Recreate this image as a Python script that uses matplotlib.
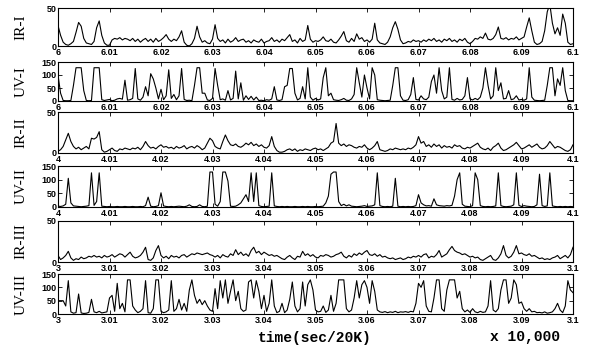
import numpy as np
import matplotlib
matplotlib.use("Agg")
import matplotlib.pyplot as plt
from matplotlib.ticker import FuncFormatter
from matplotlib.font_manager import FontProperties

# start time of each record (x 10,000 samples), each record spans 0.1
starts = [6.0, 6.0, 4.0, 4.0, 3.0, 3.0]
names = ["IR-I", "UV-I", "IR-II", "UV-II", "IR-III", "UV-III"]
ytops = [50, 150, 50, 150, 50, 150]

# traces sampled every 0.0005 (201 samples per record)
ir_1 = [27, 14, 5, 2, 1, 3, 6, 18, 31, 26, 10, 4, 3, 2, 6, 24, 33, 14, 4, 1,
        1, 8, 10, 9, 11, 8, 10, 9, 7, 10, 6, 9, 5, 8, 10, 6, 9, 5, 10, 6,
        8, 11, 15, 9, 6, 9, 7, 12, 20, 5, 1, 0, 3, 10, 26, 12, 5, 7, 4, 3,
        9, 28, 10, 6, 8, 4, 9, 5, 7, 11, 6, 8, 9, 5, 7, 4, 8, 6, 5, 9,
        4, 6, 7, 11, 6, 8, 5, 9, 7, 11, 15, 6, 8, 4, 10, 6, 8, 27, 9, 5,
        7, 6, 8, 12, 7, 6, 9, 5, 4, 8, 13, 19, 7, 5, 10, 6, 16, 9, 11, 6,
        8, 5, 9, 30, 8, 4, 3, 2, 5, 12, 24, 32, 22, 8, 3, 4, 6, 5, 8, 6,
        7, 5, 8, 6, 9, 7, 10, 6, 8, 5, 9, 7, 10, 6, 8, 5, 9, 7, 10, 5,
        3, 6, 10, 9, 12, 10, 17, 9, 8, 10, 15, 25, 10, 9, 11, 8, 10, 9, 12, 8,
        10, 12, 25, 37, 20, 5, 2, 3, 6, 20, 45, 55, 30, 16, 24, 14, 42, 30, 5, 2,
        3]
uv_1 = [100, 30, 2, 1, 1, 2, 60, 128, 128, 128, 40, 2, 1, 2, 128, 128, 128, 5, 2, 4,
        6, 1, 3, 8, 10, 7, 80, 3, 5, 10, 125, 8, 3, 15, 55, 20, 105, 85, 50, 8,
        45, 5, 20, 120, 10, 25, 5, 20, 125, 6, 2, 3, 1, 60, 128, 128, 30, 30, 4, 2,
        10, 125, 60, 5, 8, 3, 40, 4, 10, 115, 8, 70, 3, 20, 6, 18, 4, 15, 2, 3,
        1, 5, 3, 8, 55, 4, 2, 5, 55, 60, 125, 125, 30, 4, 10, 55, 8, 128, 15, 3,
        10, 4, 8, 90, 128, 20, 30, 5, 3, 2, 5, 10, 3, 2, 8, 25, 128, 70, 15, 100,
        50, 8, 128, 100, 5, 3, 2, 1, 2, 3, 60, 128, 128, 20, 3, 2, 5, 25, 90, 6,
        4, 20, 8, 5, 15, 75, 100, 30, 128, 40, 8, 15, 128, 6, 3, 10, 4, 6, 20, 90,
        8, 4, 10, 5, 15, 50, 128, 60, 8, 20, 128, 40, 70, 8, 10, 40, 5, 8, 20, 4,
        6, 3, 8, 128, 15, 3, 2, 1, 2, 3, 60, 128, 128, 20, 85, 60, 128, 40, 2, 1,
        1]
ir_2 = [2, 4, 8, 16, 24, 14, 8, 5, 7, 4, 6, 8, 5, 18, 17, 19, 26, 4, 1, 2,
        4, 6, 3, 2, 5, 4, 6, 5, 4, 6, 5, 7, 4, 8, 14, 9, 6, 7, 5, 8,
        10, 7, 8, 6, 7, 5, 8, 6, 7, 9, 5, 7, 8, 6, 9, 7, 4, 6, 12, 18,
        15, 8, 6, 5, 14, 22, 15, 10, 9, 11, 8, 7, 9, 12, 10, 13, 9, 11, 8, 10,
        7, 6, 9, 20, 8, 3, 1, 1, 2, 4, 5, 3, 5, 2, 4, 3, 5, 4, 3, 5,
        6, 4, 5, 3, 5, 7, 12, 14, 36, 12, 9, 11, 8, 10, 9, 7, 6, 8, 7, 10,
        6, 4, 6, 9, 14, 4, 3, 2, 3, 5, 4, 6, 5, 4, 5, 4, 6, 5, 7, 10,
        20, 12, 14, 8, 10, 7, 11, 8, 10, 6, 9, 7, 8, 6, 10, 8, 9, 6, 5, 7,
        6, 8, 10, 12, 7, 5, 4, 6, 3, 7, 9, 12, 6, 3, 4, 6, 8, 10, 13, 9,
        5, 6, 8, 10, 7, 9, 11, 7, 5, 6, 9, 14, 10, 6, 8, 7, 5, 3, 2, 4,
        10]
uv_2 = [3, 2, 4, 10, 105, 15, 4, 3, 2, 1, 2, 3, 5, 125, 6, 20, 125, 3, 2, 1,
        2, 1, 1, 2, 1, 1, 2, 1, 1, 2, 1, 1, 2, 1, 5, 36, 3, 1, 2, 5,
        52, 4, 2, 1, 2, 1, 2, 3, 2, 1, 3, 8, 2, 1, 2, 8, 2, 1, 3, 128,
        128, 10, 3, 20, 128, 128, 95, 3, 2, 3, 8, 15, 30, 45, 20, 125, 20, 125, 5, 2,
        1, 2, 3, 125, 4, 2, 1, 2, 1, 2, 1, 1, 2, 1, 1, 2, 1, 2, 1, 1,
        2, 1, 2, 3, 15, 40, 120, 128, 128, 20, 5, 10, 4, 8, 3, 2, 1, 2, 3, 5,
        2, 3, 4, 8, 125, 5, 2, 1, 2, 1, 3, 105, 3, 1, 2, 1, 2, 1, 2, 5,
        45, 15, 8, 4, 5, 3, 30, 8, 5, 4, 3, 5, 4, 6, 40, 100, 125, 10, 3, 2,
        1, 5, 125, 100, 5, 2, 1, 2, 1, 2, 4, 125, 5, 2, 1, 2, 3, 8, 125, 6,
        2, 5, 3, 2, 1, 2, 8, 120, 5, 2, 4, 125, 4, 2, 1, 2, 1, 2, 1, 2,
        1]
ir_3 = [8, 3, 5, 8, 13, 5, 2, 4, 3, 6, 4, 5, 7, 6, 8, 6, 7, 5, 8, 6,
        7, 9, 6, 8, 10, 9, 6, 9, 12, 7, 5, 6, 8, 12, 18, 3, 2, 5, 14, 20,
        8, 5, 7, 4, 8, 6, 7, 5, 8, 9, 6, 8, 10, 9, 11, 10, 9, 10, 11, 9,
        8, 6, 8, 5, 9, 7, 6, 10, 8, 15, 9, 12, 8, 10, 7, 14, 18, 11, 13, 9,
        12, 10, 8, 9, 7, 8, 6, 4, 3, 6, 8, 5, 3, 7, 6, 13, 8, 10, 7, 9,
        6, 5, 8, 7, 9, 8, 6, 7, 9, 10, 12, 7, 5, 8, 6, 10, 8, 11, 9, 12,
        14, 9, 8, 10, 7, 9, 6, 7, 5, 4, 5, 3, 4, 5, 3, 4, 6, 5, 7, 6,
        8, 6, 9, 10, 5, 7, 6, 9, 14, 6, 8, 10, 15, 19, 14, 12, 11, 9, 10, 8,
        6, 7, 5, 6, 3, 2, 4, 6, 8, 3, 2, 5, 10, 20, 8, 5, 7, 12, 20, 10,
        11, 9, 8, 10, 7, 8, 6, 4, 5, 3, 4, 3, 5, 6, 8, 4, 6, 8, 5, 9,
        18]
uv_3 = [50, 50, 50, 30, 125, 8, 3, 5, 75, 4, 2, 3, 6, 55, 8, 5, 10, 4, 6, 8,
        60, 70, 10, 115, 20, 40, 8, 128, 128, 30, 15, 5, 10, 20, 125, 5, 3, 20, 128, 128,
        10, 5, 8, 15, 125, 10, 20, 55, 15, 40, 10, 90, 128, 70, 40, 55, 35, 50, 30, 15,
        10, 95, 20, 125, 60, 128, 40, 85, 128, 50, 85, 20, 10, 15, 120, 128, 60, 125, 85, 20,
        70, 10, 40, 128, 30, 5, 10, 40, 5, 15, 55, 120, 30, 8, 20, 120, 30, 110, 128, 90,
        15, 8, 10, 30, 6, 15, 70, 10, 40, 128, 128, 128, 20, 8, 15, 60, 125, 60, 110, 125,
        100, 40, 125, 85, 15, 8, 6, 9, 5, 8, 6, 10, 5, 8, 7, 9, 6, 10, 8, 40,
        115, 100, 125, 30, 10, 8, 60, 128, 128, 20, 10, 90, 128, 128, 128, 60, 85, 20, 8, 15,
        6, 20, 8, 5, 10, 6, 8, 30, 125, 15, 8, 20, 90, 128, 128, 40, 60, 128, 110, 40,
        45, 20, 10, 20, 8, 10, 5, 6, 4, 8, 3, 5, 8, 20, 40, 15, 5, 30, 125, 90,
        80]
traces = [ir_1, uv_1, ir_2, uv_2, ir_3, uv_3]

# panel top / bottom in pixels
panel_top = [8, 62, 112, 166, 221, 274]
panel_bot = [46, 101, 153, 207, 262, 314]

W, H = 600, 354
fig = plt.figure(figsize=(W / 100, H / 100), dpi=100)

tickfont = FontProperties(family="Liberation Sans", weight="bold", size=6.5)
fmt = FuncFormatter(lambda v, p: "%g" % round(v, 3))

for k in range(6):
    yt, yb = panel_top[k], panel_bot[k]
    ax = fig.add_axes([58 / W, 1 - yb / H, 515 / W, (yb - yt) / H])
    y = np.array(traces[k], dtype=float)
    t = starts[k] + np.arange(len(y)) * 0.0005
    ax.plot(t, y, color="black", lw=0.8)
    ax.set_xlim(starts[k], starts[k] + 0.1)
    ax.set_ylim(0, ytops[k])
    ax.set_xticks(np.round(starts[k] + np.arange(11) * 0.01, 2))
    ax.xaxis.set_major_formatter(fmt)
    if ytops[k] == 50:
        ax.set_yticks([0, 50])
    else:
        ax.set_yticks([0, 50, 100, 150])
    ax.tick_params(direction="in", length=3, width=0.6, top=True, right=True, pad=1.2)
    for lab in ax.get_xticklabels() + ax.get_yticklabels():
        lab.set_fontproperties(tickfont)
    for s in ax.spines.values():
        s.set_linewidth(0.8)
    fig.text(21 / W, 1 - (yt + yb) / 2 / H, names[k], rotation=90,
             ha="center", va="center", family="Liberation Serif", fontsize=11)

fig.text(315 / W, 1 - 338 / H, "time(sec/20K)", ha="center", va="center",
         family="Liberation Mono", weight="bold", fontsize=10.5)
fig.text(525 / W, 1 - 337 / H, "x 10,000", ha="center", va="center",
         family="Liberation Mono", weight="bold", fontsize=10.5)

fig.savefig("out.png", dpi=100)
